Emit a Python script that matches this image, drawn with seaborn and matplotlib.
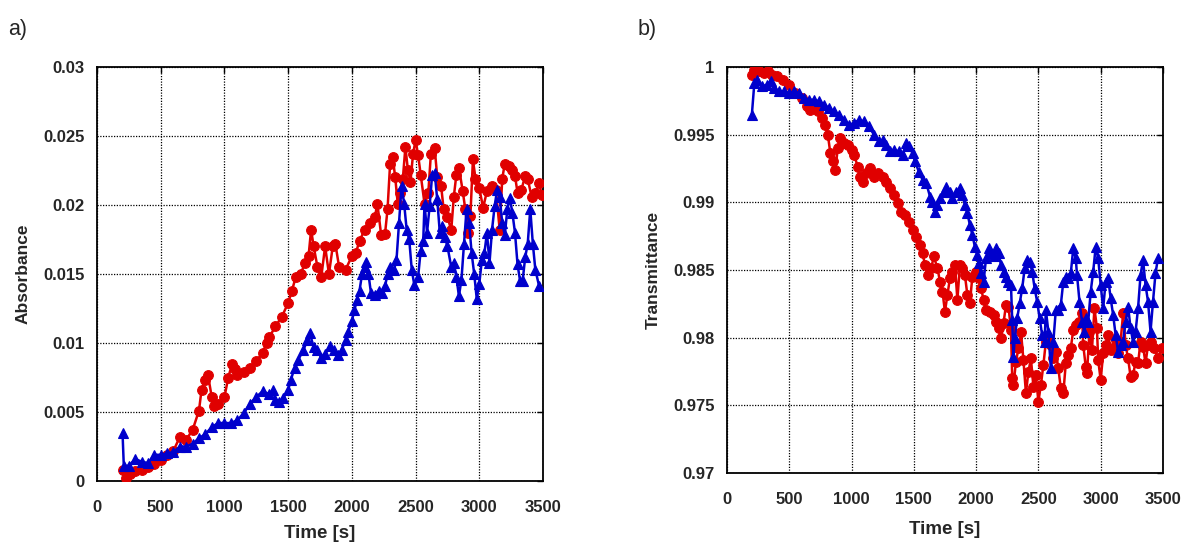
import numpy as np
import pandas as pd
import matplotlib
matplotlib.use("Agg")
import matplotlib.pyplot as plt
import seaborn as sns

# ---- a) Absorbance ----
abs_red_t = [200, 230, 260, 300, 350, 400, 450, 500, 550, 600, 650, 700, 750, 800, 820, 850, 870,
             900, 920, 950, 1000, 1030, 1060, 1080, 1100, 1150, 1200, 1250, 1300, 1330, 1350, 1400,
             1450, 1500, 1530, 1560, 1600, 1630, 1660, 1680, 1700, 1730, 1760, 1790, 1820, 1850,
             1870, 1900, 1950, 2000, 2030, 2060, 2100, 2140, 2180, 2200, 2230, 2260, 2280, 2300,
             2320, 2340, 2360, 2380, 2400, 2420, 2440, 2460, 2480, 2500, 2520, 2540, 2570, 2600,
             2620, 2650, 2670, 2700, 2720, 2750, 2780, 2800, 2820, 2840, 2870, 2890, 2910, 2930,
             2950, 2970, 3000, 3030, 3060, 3100, 3130, 3160, 3180, 3200, 3230, 3260, 3280, 3300,
             3330, 3360, 3380, 3410, 3440, 3470, 3490]
abs_red_v = [0.0008, 0.0002, 0.0005, 0.0007, 0.0008, 0.0010, 0.0012, 0.0015, 0.0019, 0.0022,
             0.0032, 0.0030, 0.0037, 0.0051, 0.0066, 0.0073, 0.0077, 0.0061, 0.0054, 0.0056,
             0.0061, 0.0075, 0.0085, 0.0081, 0.0077, 0.0079, 0.0082, 0.0087, 0.0093, 0.0100,
             0.0104, 0.0112, 0.0119, 0.0129, 0.0138, 0.0148, 0.0150, 0.0158, 0.0163, 0.0182,
             0.0170, 0.0155, 0.0148, 0.0170, 0.0150, 0.0170, 0.0172, 0.0155, 0.0153, 0.0163,
             0.0165, 0.0174, 0.0182, 0.0187, 0.0191, 0.0201, 0.0178, 0.0179, 0.0197, 0.0230,
             0.0235, 0.0220, 0.0201, 0.0209, 0.0219, 0.0242, 0.0225, 0.0217, 0.0237, 0.0247,
             0.0236, 0.0222, 0.0201, 0.0209, 0.0237, 0.0241, 0.0220, 0.0214, 0.0197, 0.0191,
             0.0182, 0.0206, 0.0222, 0.0227, 0.0210, 0.0197, 0.0180, 0.0192, 0.0233, 0.0219,
             0.0212, 0.0198, 0.0210, 0.0214, 0.0211, 0.0182, 0.0219, 0.0230, 0.0228, 0.0225,
             0.0221, 0.0209, 0.0211, 0.0221, 0.0219, 0.0206, 0.0209, 0.0216, 0.0207]

abs_blue_t = [200, 210, 250, 300, 350, 400, 450, 500, 550, 600, 650, 700, 750, 800, 850, 900,
              950, 1000, 1050, 1100, 1150, 1200, 1250, 1300, 1350, 1380, 1400, 1430, 1460, 1500,
              1520, 1550, 1580, 1620, 1650, 1670, 1700, 1730, 1760, 1790, 1830, 1860, 1890, 1920,
              1950, 1970, 2000, 2020, 2040, 2060, 2080, 2100, 2110, 2130, 2150, 2180, 2210, 2240,
              2260, 2280, 2300, 2330, 2350, 2370, 2390, 2410, 2430, 2450, 2470, 2490, 2520, 2540,
              2560, 2570, 2590, 2610, 2630, 2650, 2670, 2690, 2710, 2730, 2750, 2780, 2800, 2820,
              2840, 2860, 2880, 2900, 2920, 2940, 2960, 2980, 3000, 3020, 3040, 3060, 3080, 3100,
              3120, 3140, 3160, 3180, 3200, 3220, 3240, 3260, 3280, 3300, 3320, 3340, 3360, 3380,
              3400, 3420, 3440, 3470]
abs_blue_v = [0.0035, 0.0011, 0.0011, 0.0016, 0.0014, 0.0013, 0.0019, 0.0019, 0.0020, 0.0021,
              0.0025, 0.0025, 0.0027, 0.0031, 0.0034, 0.0039, 0.0042, 0.0042, 0.0042, 0.0044,
              0.0049, 0.0056, 0.0061, 0.0065, 0.0063, 0.0066, 0.0059, 0.0057, 0.0060, 0.0066,
              0.0073, 0.0082, 0.0088, 0.0095, 0.0102, 0.0107, 0.0097, 0.0095, 0.0089, 0.0092,
              0.0098, 0.0095, 0.0091, 0.0095, 0.0102, 0.0108, 0.0116, 0.0124, 0.0131, 0.0138,
              0.0150, 0.0155, 0.0159, 0.0150, 0.0136, 0.0135, 0.0138, 0.0136, 0.0141, 0.0150,
              0.0155, 0.0153, 0.0160, 0.0187, 0.0214, 0.0201, 0.0182, 0.0175, 0.0153, 0.0142,
              0.0148, 0.0167, 0.0174, 0.0201, 0.0180, 0.0199, 0.0222, 0.0223, 0.0204, 0.0180,
              0.0185, 0.0177, 0.0170, 0.0155, 0.0158, 0.0148, 0.0134, 0.0146, 0.0172, 0.0197,
              0.0187, 0.0165, 0.0150, 0.0132, 0.0143, 0.0160, 0.0165, 0.0180, 0.0158, 0.0182,
              0.0199, 0.0211, 0.0206, 0.0187, 0.0178, 0.0197, 0.0205, 0.0194, 0.0180, 0.0157,
              0.0145, 0.0145, 0.0162, 0.0172, 0.0197, 0.0172, 0.0153, 0.0141]

# ---- b) Transmittance ----
tr_red_t = [200, 220, 240, 260, 300, 330, 360, 400, 450, 500, 550, 600, 640, 670, 700, 730, 760,
            790, 810, 830, 850, 870, 890, 910, 940, 970, 1000, 1020, 1050, 1070, 1090, 1120, 1150,
            1180, 1210, 1250, 1280, 1310, 1340, 1370, 1400, 1430, 1460, 1490, 1520, 1550, 1570,
            1590, 1610, 1640, 1660, 1690, 1710, 1730, 1750, 1770, 1790, 1810, 1830, 1850, 1870,
            1890, 1910, 1930, 1950, 1970, 2000, 2020, 2040, 2060, 2080, 2110, 2140, 2160, 2180,
            2200, 2220, 2240, 2260, 2280, 2290, 2300, 2320, 2340, 2360, 2380, 2400, 2420, 2440,
            2460, 2480, 2500, 2520, 2540, 2560, 2580, 2600, 2620, 2640, 2660, 2680, 2700, 2720,
            2740, 2760, 2780, 2800, 2830, 2850, 2860, 2880, 2890, 2910, 2930, 2950, 2970, 2980,
            3000, 3020, 3040, 3060, 3080, 3100, 3120, 3140, 3160, 3180, 3200, 3220, 3240, 3260,
            3280, 3300, 3320, 3340, 3360, 3380, 3400, 3430, 3460, 3490]
tr_red_v = [0.99938, 0.99980, 0.99998, 0.99970, 0.99956, 0.99970, 0.99943, 0.99931, 0.99906,
            0.99869, 0.99808, 0.99771, 0.99709, 0.99684, 0.99709, 0.99672, 0.99623, 0.99573,
            0.99500, 0.99364, 0.99302, 0.99241, 0.99401, 0.99475, 0.99438, 0.99426, 0.99389,
            0.99352, 0.99265, 0.99191, 0.99154, 0.99216, 0.99253, 0.99191, 0.99216, 0.99191,
            0.99154, 0.99105, 0.99056, 0.98994, 0.98932, 0.98908, 0.98858, 0.98797, 0.98747,
            0.98686, 0.98624, 0.98538, 0.98464, 0.98513, 0.98600, 0.98513, 0.98415, 0.98341,
            0.98193, 0.98316, 0.98440, 0.98489, 0.98538, 0.98279, 0.98538, 0.98513, 0.98464,
            0.98316, 0.98254, 0.98452, 0.98489, 0.98440, 0.98365, 0.98279, 0.98205, 0.98193,
            0.98168, 0.98119, 0.98070, 0.97996, 0.98107, 0.98242, 0.98230, 0.98057, 0.97700,
            0.97650, 0.97823, 0.97921, 0.98045, 0.97835, 0.97589, 0.97749, 0.97847, 0.97638,
            0.97724, 0.97527, 0.97650, 0.97798, 0.97971, 0.97996, 0.97946, 0.97847, 0.97897,
            0.97774, 0.97626, 0.97589, 0.97810, 0.97872, 0.97921, 0.98057, 0.98094, 0.98119,
            0.98180, 0.97946, 0.97786, 0.97737, 0.98045, 0.97909, 0.98217, 0.98070, 0.97835,
            0.97687, 0.97884, 0.97946, 0.98020, 0.97909, 0.97921, 0.97983, 0.97884, 0.97971,
            0.98180, 0.97946, 0.97847, 0.97712, 0.97724, 0.97823, 0.97810, 0.97971, 0.97934,
            0.97810, 0.97946, 0.97971, 0.97921, 0.97847, 0.97921]

tr_blue_t = [200, 220, 240, 280, 320, 350, 380, 420, 460, 500, 540, 580, 620, 660, 700, 740, 780,
             820, 860, 900, 940, 980, 1020, 1060, 1100, 1140, 1180, 1220, 1250, 1280, 1310, 1340,
             1380, 1410, 1440, 1460, 1490, 1510, 1540, 1570, 1600, 1630, 1650, 1670, 1690, 1710,
             1740, 1760, 1790, 1810, 1840, 1870, 1890, 1910, 1930, 1950, 1970, 1990, 2010, 2020,
             2040, 2060, 2080, 2100, 2120, 2140, 2160, 2180, 2200, 2220, 2240, 2260, 2280, 2290,
             2300, 2310, 2330, 2350, 2370, 2390, 2410, 2430, 2450, 2470, 2490, 2510, 2530, 2550,
             2560, 2580, 2600, 2620, 2640, 2660, 2680, 2700, 2720, 2740, 2760, 2780, 2800, 2810,
             2830, 2850, 2870, 2880, 2900, 2920, 2940, 2960, 2980, 3000, 3020, 3040, 3060, 3080,
             3100, 3120, 3140, 3160, 3180, 3200, 3220, 3240, 3260, 3280, 3300, 3320, 3340, 3360,
             3380, 3400, 3420, 3440, 3460]
tr_blue_v = [0.99647, 0.99882, 0.99906, 0.99857, 0.99869, 0.99894, 0.99845, 0.99820, 0.99820,
             0.99808, 0.99820, 0.99808, 0.99771, 0.99758, 0.99758, 0.99746, 0.99721, 0.99697,
             0.99672, 0.99647, 0.99610, 0.99573, 0.99586, 0.99610, 0.99598, 0.99561, 0.99500,
             0.99450, 0.99462, 0.99426, 0.99376, 0.99389, 0.99376, 0.99352, 0.99438, 0.99413,
             0.99364, 0.99302, 0.99228, 0.99167, 0.99142, 0.99043, 0.99006, 0.98932, 0.98982,
             0.99031, 0.99080, 0.99117, 0.99080, 0.99031, 0.99080, 0.99105, 0.99056, 0.98982,
             0.98920, 0.98834, 0.98760, 0.98673, 0.98612, 0.98550, 0.98476, 0.98415, 0.98587,
             0.98661, 0.98624, 0.98600, 0.98661, 0.98624, 0.98538, 0.98489, 0.98452, 0.98415,
             0.98390, 0.98131, 0.97860, 0.97996, 0.98144, 0.98254, 0.98365, 0.98513, 0.98575,
             0.98562, 0.98489, 0.98365, 0.98267, 0.98144, 0.98020, 0.97971, 0.98205, 0.98045,
             0.97774, 0.97971, 0.98205, 0.98205, 0.98242, 0.98415, 0.98452, 0.98440, 0.98476,
             0.98661, 0.98587, 0.98464, 0.98267, 0.98119, 0.98045, 0.98144, 0.98119, 0.98341,
             0.98489, 0.98673, 0.98587, 0.98390, 0.98217, 0.98415, 0.98440, 0.98291, 0.98168,
             0.98020, 0.97897, 0.97946, 0.97971, 0.98119, 0.98230, 0.98070, 0.97971, 0.98045,
             0.98217, 0.98464, 0.98575, 0.98390, 0.98267, 0.98045, 0.98267, 0.98476, 0.98587]

x_ticks = [0, 500, 1000, 1500, 2000, 2500, 3000, 3500]
abs_ticks = [0, 0.005, 0.01, 0.015, 0.02, 0.025, 0.03]
abs_labels = ["0", "0.005", "0.01", "0.015", "0.02", "0.025", "0.03"]
tr_ticks = [0.97, 0.975, 0.98, 0.985, 0.99, 0.995, 1.0]
tr_labels = ["0.97", "0.975", "0.98", "0.985", "0.99", "0.995", "1"]

RED = "#e00000"
BLUE = "#0000cc"

sns.set_theme(style="white")
plt.rcParams["font.family"] = ["Liberation Sans", "DejaVu Sans"]

fig = plt.figure(figsize=(11.82, 5.42), dpi=100)
ax_a = fig.add_axes([0.0821, 0.1125, 0.3773, 0.764])
ax_b = fig.add_axes([0.6150, 0.1273, 0.3689, 0.749])


def draw_series(ax, t, v, color, marker, ms):
    df = pd.DataFrame({"t": t, "v": v})
    sns.lineplot(data=df, x="t", y="v", ax=ax, color=color, marker=marker,
                 markersize=ms, markeredgecolor=color, markeredgewidth=0.8,
                 linewidth=1.8, sort=False, estimator=None, zorder=3)


def style_axes(ax, yticks, ylabels, ylim, ylabel, xpad, xlabelpad):
    ax.set_xlim(0, 3500)
    ax.set_ylim(*ylim)
    ax.set_xticks(x_ticks)
    ax.set_xticklabels([str(x) for x in x_ticks], fontsize=12, fontweight="bold")
    ax.set_yticks(yticks)
    ax.set_yticklabels(ylabels, fontsize=12, fontweight="bold")
    ax.grid(True, color="black", linestyle=(0, (1, 1.2)), linewidth=0.9)
    ax.set_axisbelow(True)
    for s in ax.spines.values():
        s.set_color("black")
        s.set_linewidth(1.3)
    ax.tick_params(axis="both", direction="in", length=4, width=1, color="black",
                   top=True, right=True)
    ax.tick_params(axis="x", pad=xpad)
    ax.tick_params(axis="y", pad=9)
    ax.set_xlabel("Time [s]", fontsize=13.5, fontweight="bold", labelpad=xlabelpad)
    ax.set_ylabel(ylabel, fontsize=12.5, fontweight="bold", labelpad=9)


draw_series(ax_a, abs_red_t, abs_red_v, RED, "o", 7)
draw_series(ax_a, abs_blue_t, abs_blue_v, BLUE, "^", 7)
style_axes(ax_a, abs_ticks, abs_labels, (0, 0.03), "Absorbance", 14, 7)

draw_series(ax_b, tr_red_t, tr_red_v, RED, "o", 7)
draw_series(ax_b, tr_blue_t, tr_blue_v, BLUE, "^", 7)
style_axes(ax_b, tr_ticks, tr_labels, (0.97, 1.0), "Transmittance", 14, 10)

fig.text(0.007, 0.945, "a)", fontsize=15.5, ha="left", va="center")
fig.text(0.539, 0.945, "b)", fontsize=15.5, ha="left", va="center")

fig.savefig("out.png", dpi=100)
